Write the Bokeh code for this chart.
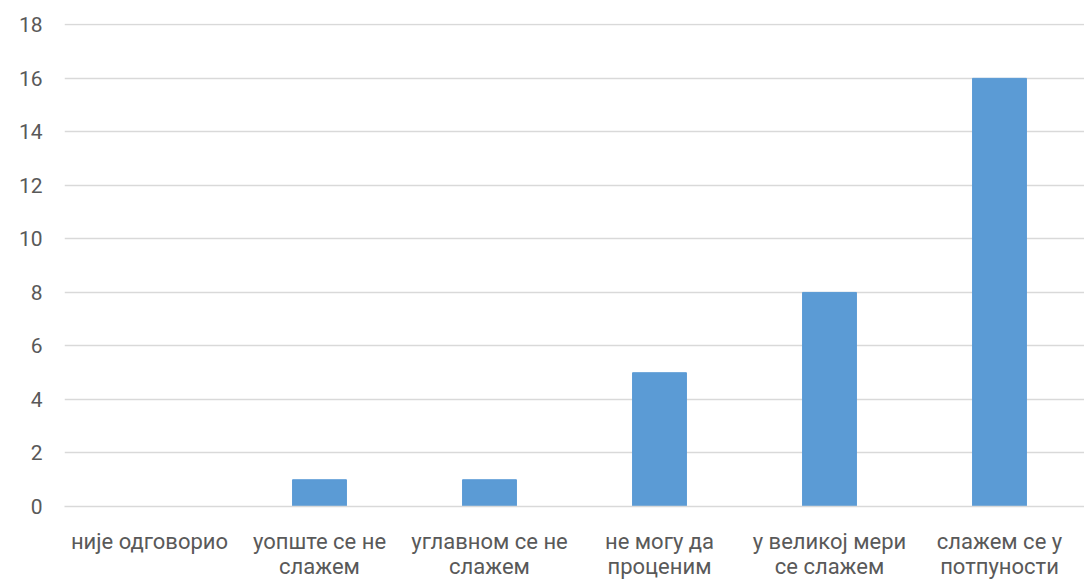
from bokeh.plotting import figure
from bokeh.models import ColumnDataSource, FixedTicker, Range1d
from bokeh.embed import file_html
from bokeh.resources import INLINE

categories = ["није одговорио", "уопште се не\nслажем", "углавном се не\nслажем",
              "не могу да\nпроценим", "у великој мери\nсе слажем", "слажем се у\nпотпуности"]
values = [0, 1, 1, 5, 8, 16]
y_ticks = [0, 2, 4, 6, 8, 10, 12, 14, 16, 18]

FONT = "Roboto"
TEXT = "#595959"
GRID = "#d9d9d9"

src = ColumnDataSource(data=dict(cat=categories, val=values))

p = figure(x_range=categories, y_range=Range1d(0, 18.05), width=1084, height=581,
           output_backend="svg", toolbar_location=None,
           min_border_left=64, min_border_right=0, min_border_top=23, min_border_bottom=70)

p.vbar(x="cat", top="val", width=0.317, source=src, fill_color="#5B9BD5", line_color="#5B9BD5")

p.outline_line_color = None
p.background_fill_color = "white"
p.border_fill_color = "white"

p.xgrid.grid_line_color = None
p.ygrid.grid_line_color = GRID
p.ygrid.grid_line_width = 1.5

p.yaxis.ticker = FixedTicker(ticks=y_ticks)
p.yaxis.axis_line_color = None
p.yaxis.major_tick_line_color = None
p.yaxis.minor_tick_line_color = None
p.yaxis.major_label_standoff = 16
p.yaxis.major_label_text_font = FONT
p.yaxis.major_label_text_font_size = "21px"
p.yaxis.major_label_text_color = TEXT

p.xaxis.axis_line_color = GRID
p.xaxis.axis_line_width = 1.5
p.xaxis.major_tick_line_color = None
p.xaxis.minor_tick_line_color = None
p.xaxis.major_label_standoff = 16
p.xaxis.major_label_text_font = FONT
p.xaxis.major_label_text_font_size = "22px"
p.xaxis.major_label_text_color = TEXT
p.xaxis.major_label_text_line_height = 1.0

open("out.html", "w").write(file_html(p, INLINE))
